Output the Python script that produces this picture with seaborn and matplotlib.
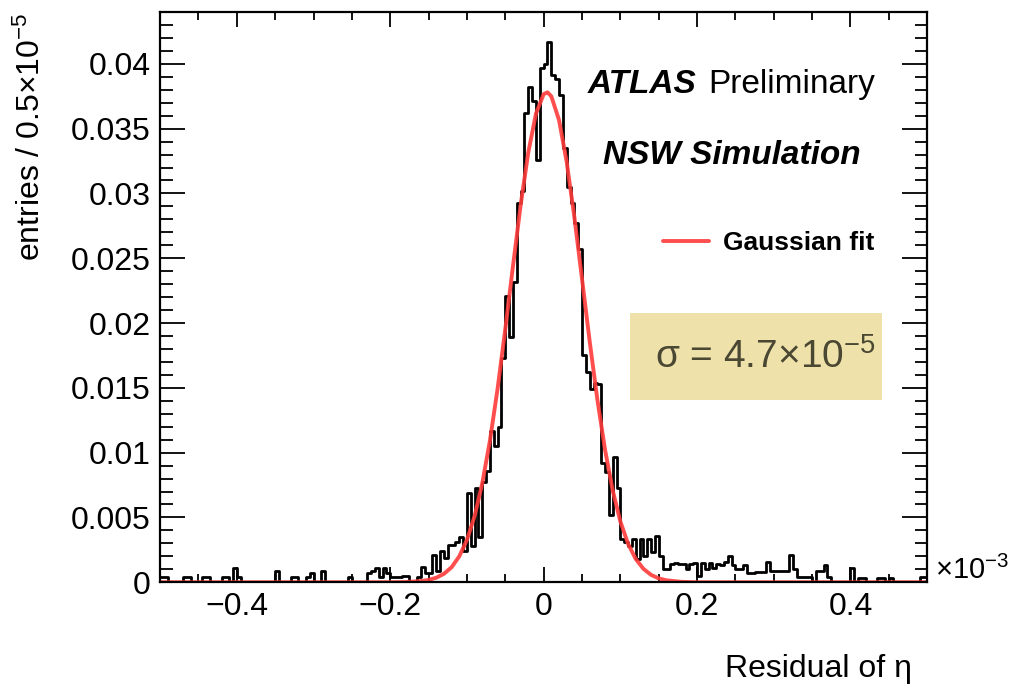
import numpy as np
import pandas as pd
import matplotlib
matplotlib.use('Agg')
import matplotlib.pyplot as plt
from matplotlib.patches import Rectangle
from matplotlib.ticker import MultipleLocator, FuncFormatter
import seaborn as sns

# histogram of the eta residual, 200 bins of 0.5e-5 from -0.5 to 0.5 (x10^-3)
left_tail = [0.0004, 0.0004, 0, 0, 0, 0, 0.0004, 0.0004, 0, 0,
             0, 0.0004, 0.0004, 0, 0, 0, 0.0004, 0.0004, 0, 0.0011,
             0.0004, 0, 0, 0, 0, 0, 0, 0, 0, 0,
             0.0009, 0, 0, 0, 0.0004, 0.0004, 0, 0, 0.0004, 0.0007,
             0, 0, 0.0009, 0, 0, 0, 0, 0, 0, 0.0004,
             0, 0, 0, 0, 0.0007, 0.0009, 0.0011, 0.0004, 0.0011, 0.0007,
             0.0004, 0.0004, 0.0004]
left_core = [0.0005, 0.0005, 0, 0, 0.0004, 0.0012, 0.0007, 0.0007, 0.0021, 0.0009,
             0.0024, 0.0019, 0.0029, 0.0029, 0.0031, 0.0035, 0.0024, 0.0069, 0.0028, 0.0073,
             0.0035, 0.0077, 0.0086, 0.0117, 0.0105, 0.0120, 0.0173, 0.0221, 0.0189, 0.0232,
             0.0293, 0.0302, 0.0362, 0.0382, 0.0371, 0.0326, 0.0397]
right_core = [0.0400, 0.0417, 0.0391, 0.0388, 0.0376, 0.0335, 0.0305, 0.0293, 0.0277, 0.0257,
              0.0175, 0.0162, 0.0149, 0.0154, 0.0153, 0.0092, 0.0085, 0.0052, 0.0097, 0.0073,
              0.0033, 0.0031, 0.0028, 0.0033, 0.0018, 0.0033, 0.0020, 0.0033, 0.0023, 0.0036,
              0.0020, 0.0010, 0.0010, 0.0014, 0.0015, 0.0014, 0.0014, 0.0010, 0.0014, 0.0015]
right_tail = [0.0005, 0.0015, 0.0010, 0.0015, 0.0011, 0.0014, 0.0013, 0.0016, 0.0020, 0.0013,
              0.0010, 0.0010, 0.0013, 0.0007, 0.0007, 0.0008, 0.0008, 0.0008, 0.0016, 0.0009,
              0.0009, 0.0009, 0.0009, 0.0009, 0.0021, 0.0010, 0.0004, 0.0004, 0.0004, 0.0004,
              0, 0.0009, 0.0009, 0.0013, 0.0004, 0, 0, 0, 0, 0,
              0.0011, 0, 0.0003, 0.0003, 0, 0, 0, 0.0003, 0.0003, 0,
              0.0003, 0, 0, 0, 0, 0, 0, 0, 0.0004, 0.0004]
entries = left_tail + left_core + right_core + right_tail

# Gaussian fit curve
fit_x = [-0.5, -0.25, -0.2, -0.18, -0.16, -0.15, -0.14, -0.13, -0.12, -0.11,
         -0.1, -0.09, -0.08, -0.07, -0.06, -0.05, -0.04, -0.03, -0.02, -0.01,
         0.0, 0.005, 0.01, 0.02, 0.03, 0.04, 0.05, 0.06, 0.07, 0.08,
         0.09, 0.1, 0.11, 0.12, 0.13, 0.14, 0.15, 0.16, 0.18, 0.2, 0.25, 0.5]
fit_y = [0, 0, 0.0000, 0.00002, 0.00009, 0.00018, 0.00035, 0.00065, 0.00116, 0.0020,
         0.00327, 0.00511, 0.00765, 0.01094, 0.01496, 0.01954, 0.02439, 0.0291, 0.03318, 0.03616,
         0.03766, 0.0378, 0.03749, 0.03567, 0.03244, 0.02819, 0.02341, 0.01859, 0.0141, 0.01023,
         0.00709, 0.00469, 0.00297, 0.0018, 0.00104, 0.00057, 0.0003, 0.00015, 0.00003, 0.0, 0, 0]

nbins = len(entries)
bin_width = 1.0 / nbins
df = pd.DataFrame({
    'residual': -0.5 + bin_width * (np.arange(nbins) + 0.5),
    'entries': entries,
})

sns.set_style('ticks')
plt.rcParams['font.family'] = ['Liberation Sans', 'DejaVu Sans']
plt.rcParams['mathtext.default'] = 'regular'
plt.rcParams['text.color'] = 'black'
plt.rcParams['axes.labelcolor'] = 'black'

fig = plt.figure(figsize=(10.2, 6.85), dpi=100)
ax = fig.add_axes([0.157, 0.150, 0.752, 0.8325])

sns.histplot(data=df, x='residual', weights='entries', binwidth=bin_width,
             binrange=(-0.5, 0.5), element='step', fill=False,
             color='black', linewidth=2.0, ax=ax)
sns.lineplot(x=fit_x, y=fit_y, color='#ff3b3b', linewidth=2.8, alpha=0.9,
             label='Gaussian fit', ax=ax)

ax.set_xlim(-0.5, 0.5)
ax.set_ylim(0, 0.044)

ax.xaxis.set_major_locator(MultipleLocator(0.2))
ax.xaxis.set_minor_locator(MultipleLocator(0.05))
ax.yaxis.set_major_locator(MultipleLocator(0.005))
ax.yaxis.set_minor_locator(MultipleLocator(0.001))
fmt = FuncFormatter(lambda v, p: ('%g' % round(v, 6)).replace('-', '\u2212'))
ax.xaxis.set_major_formatter(fmt)
ax.yaxis.set_major_formatter(fmt)

ax.tick_params(which='both', direction='in', top=True, right=True, labelsize=23, colors='black')
ax.tick_params(axis='x', which='major', length=11, width=1.3, pad=7)
ax.tick_params(axis='x', which='minor', length=6, width=1.3)
ax.tick_params(axis='y', which='major', length=18, width=1.3, pad=7)
ax.tick_params(axis='y', which='minor', length=9, width=1.3)
for s in ax.spines.values():
    s.set_linewidth(1.6)
    s.set_color('black')

ax.set_ylabel('')
fig.text(31 / 1020, 1 - 13 / 685, 'entries / 0.5\u00d710$^{-5}$', fontsize=23,
         rotation=90, ha='center', va='top')
ax.set_xlabel('Residual of \u03b7', fontsize=23, loc='right')
ax.xaxis.set_label_coords(0.98, -0.125)
ax.text(1.01, 0.02, '\u00d710$^{-3}$', transform=ax.transAxes, fontsize=21,
        ha='left', va='center')

ax.text(0.557, 0.872, 'ATLAS', transform=ax.transAxes, fontsize=24,
        fontweight='bold', fontstyle='italic', va='center')
ax.text(0.714, 0.872, 'Preliminary', transform=ax.transAxes, fontsize=24, va='center')
ax.text(0.578, 0.749, 'NSW Simulation', transform=ax.transAxes, fontsize=24,
        fontweight='bold', fontstyle='italic', va='center')

ax.legend(loc='center left', bbox_to_anchor=(0.655, 0.595), frameon=False,
          prop={'weight': 'bold', 'size': 19}, handlelength=1.75, handletextpad=0.55,
          borderpad=0, borderaxespad=0, labelcolor='black')

ax.add_patch(Rectangle((0.613, 0.319), 0.328, 0.153, transform=ax.transAxes,
                       facecolor='#eee2aa', edgecolor='none', zorder=3))
ax.text(0.645, 0.395, '\u03c3 = 4.7\u00d710$^{-5}$', transform=ax.transAxes,
        fontsize=28, color='#4a4733', va='center', ha='left', zorder=4)

fig.savefig('out.png', dpi=100)
